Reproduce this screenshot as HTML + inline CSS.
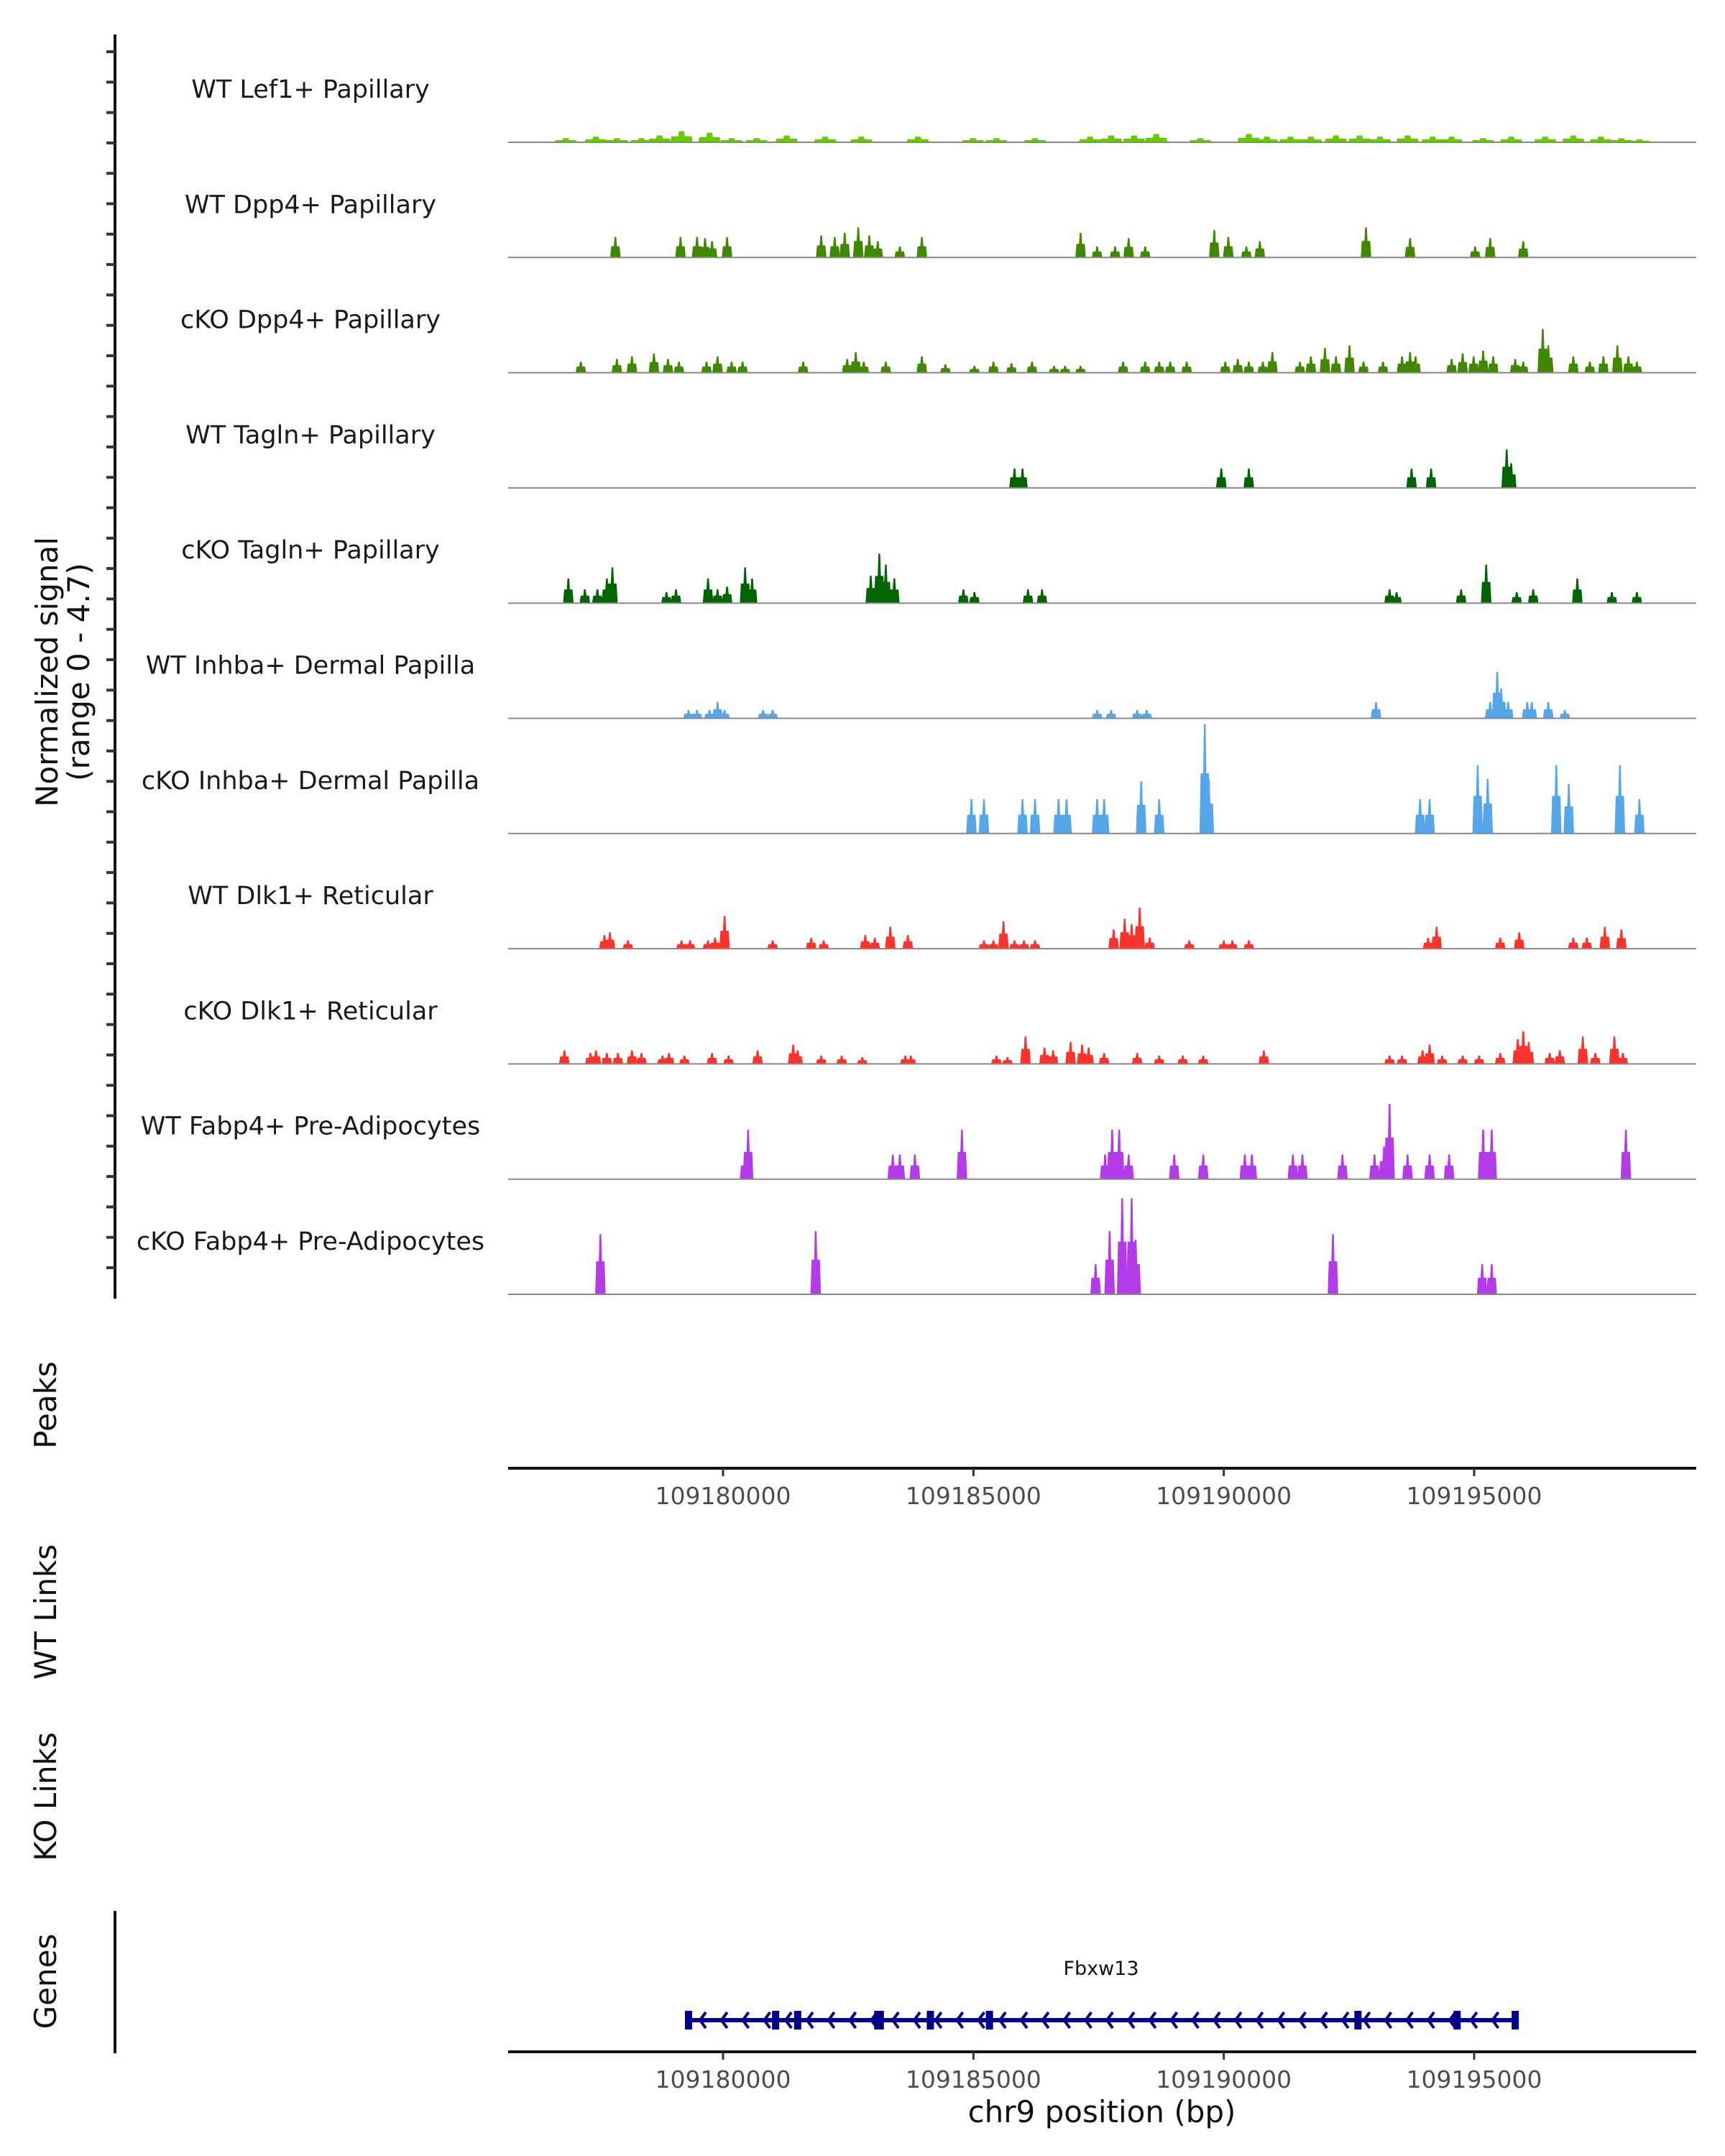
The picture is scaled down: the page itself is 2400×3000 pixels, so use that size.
<!DOCTYPE html>
<html><head><meta charset="utf-8"><style>
html,body{margin:0;padding:0;background:#fff}
svg{display:block;font-family:"DejaVu Sans","Liberation Sans",sans-serif}
</style></head><body>
<svg id="chart" width="2400" height="3000" viewBox="0 0 2400 3000" xmlns="http://www.w3.org/2000/svg">
<g id="left"></g>
<g id="tracks"></g>
<g id="axes"></g>
<g id="genes"></g>
</svg>
<script>
// ---- data (positions in kb offset from chr9:109,000,000; heights in normalized signal) ----
const trackNames = ["WT Lef1+ Papillary","WT Dpp4+ Papillary","cKO Dpp4+ Papillary","WT Tagln+ Papillary","cKO Tagln+ Papillary","WT Inhba+ Dermal Papilla","cKO Inhba+ Dermal Papilla","WT Dlk1+ Reticular","cKO Dlk1+ Reticular","WT Fabp4+ Pre-Adipocytes","cKO Fabp4+ Pre-Adipocytes"];
const trackColors = ["#66CC00","#408800","#408800","#006400","#006400","#56A6EA","#56A6EA","#F8342C","#F8342C","#B43CE8","#B43CE8"];
const pos0 = [176.86,177.46,177.88,178.37,178.73,179.17,179.73,180.17,180.67,181.27,182.04,182.76,183.89,184.99,185.46,186.23,187.33,187.75,188.21,188.65,189.53,190.50,190.86,191.33,191.74,192.24,192.71,193.12,193.67,194.17,194.55,195.18,195.74,196.42,196.98,197.53,197.94,198.30];
const val0 = [0.17,0.23,0.17,0.17,0.28,0.45,0.39,0.17,0.17,0.28,0.23,0.23,0.23,0.17,0.17,0.17,0.23,0.28,0.28,0.34,0.17,0.34,0.23,0.23,0.23,0.28,0.28,0.23,0.28,0.23,0.23,0.17,0.23,0.23,0.28,0.23,0.17,0.12];
const pos1 = [177.85,179.15,179.48,179.64,179.78,180.08,181.96,182.23,182.43,182.70,182.92,183.09,183.53,183.97,187.14,187.47,187.83,188.10,188.43,189.81,190.09,190.45,190.72,192.84,193.72,195.02,195.32,195.98];
const val1 = [0.84,0.84,0.84,0.79,0.67,0.84,0.90,0.84,1.01,1.23,0.90,0.67,0.45,0.84,1.01,0.45,0.45,0.79,0.45,1.12,0.84,0.45,0.67,1.23,0.79,0.45,0.79,0.67];
const pos2 = [177.16,177.88,178.18,178.62,178.90,179.12,179.67,179.89,180.17,180.39,181.60,182.48,182.65,182.81,183.25,183.97,184.44,185.02,185.40,185.76,186.17,186.61,186.83,187.14,187.99,188.43,188.71,188.93,189.26,190.03,190.28,190.50,190.78,190.97,191.52,191.74,192.02,192.24,192.51,192.79,193.18,193.56,193.72,193.83,194.55,194.77,194.99,195.18,195.38,195.82,195.98,196.37,196.48,196.98,197.31,197.58,197.86,198.08,198.25];
const val2 = [0.45,0.56,0.67,0.79,0.56,0.45,0.45,0.67,0.45,0.45,0.45,0.56,0.84,0.45,0.45,0.67,0.34,0.28,0.45,0.39,0.45,0.28,0.28,0.28,0.45,0.45,0.45,0.45,0.45,0.45,0.56,0.45,0.45,0.84,0.45,0.67,1.01,0.67,1.12,0.45,0.45,0.67,0.84,0.67,0.56,0.79,0.67,0.90,0.67,0.56,0.45,1.79,1.12,0.67,0.45,0.67,1.12,0.67,0.45];
const pos3 = [185.82,185.98,189.95,190.50,193.75,194.14,195.65,195.74];
const val3 = [0.79,0.79,0.79,0.79,0.79,0.79,1.57,1.01];
const pos4 = [176.91,177.24,177.49,177.68,177.79,178.87,179.06,179.70,179.89,180.08,180.44,180.58,182.95,183.12,183.25,183.42,184.80,185.02,186.09,186.37,193.31,193.45,194.74,195.24,195.85,196.18,197.06,197.75,198.25];
const val4 = [1.01,0.56,0.56,1.01,1.46,0.45,0.56,1.01,0.56,0.67,1.46,1.01,1.12,2.02,1.57,1.01,0.56,0.45,0.56,0.56,0.56,0.45,0.56,1.57,0.45,0.56,1.01,0.45,0.45];
const pos5 = [179.31,179.48,179.73,179.89,180.03,180.80,180.99,187.47,187.75,188.27,188.46,193.04,195.32,195.46,195.54,195.68,196.06,196.15,196.48,196.81];
const val5 = [0.34,0.34,0.34,0.67,0.34,0.34,0.34,0.34,0.34,0.34,0.34,0.67,0.67,1.90,1.23,0.67,0.67,0.67,0.67,0.34];
const pos6 = [184.96,185.21,185.98,186.23,186.70,186.86,187.47,187.61,188.35,188.71,189.62,189.70,193.92,194.11,195.07,195.27,196.64,196.89,197.91,198.30];
const val6 = [1.40,1.40,1.40,1.40,1.40,1.40,1.40,1.40,2.13,1.40,4.48,2.24,1.40,1.40,2.80,2.24,2.80,2.02,2.80,1.40];
const pos7 = [177.63,177.74,178.10,179.17,179.34,179.70,179.84,180.03,180.99,181.76,182.01,182.84,183.03,183.34,183.69,185.21,185.40,185.60,185.82,186.01,186.23,187.80,188.02,188.16,188.32,188.52,189.31,190.00,190.17,190.50,194.08,194.25,195.52,195.90,196.98,197.25,197.61,197.94];
const val7 = [0.56,0.67,0.34,0.34,0.34,0.34,0.45,1.34,0.34,0.45,0.34,0.56,0.45,0.90,0.56,0.34,0.34,1.12,0.34,0.34,0.34,0.79,1.23,1.01,1.68,0.45,0.34,0.34,0.34,0.34,0.45,0.90,0.45,0.67,0.45,0.45,0.90,0.79];
const pos8 = [176.83,177.35,177.46,177.68,177.90,178.18,178.37,178.79,178.92,179.23,179.78,180.11,180.69,181.40,181.49,181.96,182.37,182.78,183.64,183.75,185.46,185.68,186.04,186.42,186.59,186.94,187.17,187.30,187.61,188.27,188.71,189.18,189.59,190.80,193.31,193.56,193.97,194.11,194.36,194.77,195.10,195.52,195.87,195.98,196.09,196.51,196.71,197.17,197.42,197.80,197.97];
const val8 = [0.56,0.45,0.56,0.45,0.45,0.56,0.45,0.34,0.45,0.34,0.45,0.34,0.56,0.79,0.56,0.34,0.34,0.28,0.34,0.34,0.34,0.28,1.12,0.67,0.56,0.90,0.79,0.67,0.45,0.45,0.34,0.34,0.34,0.56,0.34,0.34,0.56,0.79,0.34,0.34,0.34,0.45,1.01,1.34,0.90,0.45,0.56,1.12,0.45,1.12,0.45];
const pos9 = [180.44,180.50,183.39,183.53,183.83,184.77,187.63,187.77,187.91,188.10,189.01,189.59,190.42,190.56,191.38,191.57,192.37,193.01,193.20,193.31,193.67,194.11,194.50,195.18,195.35,198.03];
const val9 = [1.01,2.02,1.01,1.01,1.01,2.02,1.01,2.02,2.02,1.01,1.01,1.01,1.01,1.01,1.01,1.01,1.01,1.01,1.34,3.08,1.01,1.01,1.01,2.02,2.02,2.02];
const pos10 = [177.55,181.85,187.44,187.72,187.97,188.16,188.24,192.18,195.16,195.35];
const val10 = [2.46,2.58,1.23,2.58,3.92,3.92,2.24,2.46,1.23,1.23];
const xTicks = [109180000,109185000,109190000,109195000];
const geneName = "Fbxw13";
const geneStart = 179.31, geneEnd = 195.82;
const exonPos = [179.31,181.05,181.49,183.09,183.14,184.14,185.32,192.68,194.66,195.82];
const yMax = 4.7;

const positions=[pos0,pos1,pos2,pos3,pos4,pos5,pos6,pos7,pos8,pos9,pos10];
const values=[val0,val1,val2,val3,val4,val5,val6,val7,val8,val9,val10];

// ---- scales ----
const X0=707, X1=2360;
function xScale(bp){return 1006+(bp-109180000)*(1045/15000);}
function xKb(kb){return xScale(109000000+kb*1000);}
const base0=198, trackStep=160.3, trackH=160;
function yScale(v,i){return base0+i*trackStep - v/yMax*trackH;}

const NS="http://www.w3.org/2000/svg";
function mk(tag,attrs,parent,text){const e=document.createElementNS(NS,tag);for(const k in attrs)e.setAttribute(k,attrs[k]);if(text!==undefined)e.textContent=text;parent.appendChild(e);return e;}

// ---- left axis ----
const L=document.getElementById('left');
let ax=mk('line',{x1:160,y1:48,x2:160,y2:1807,stroke:'#111','stroke-width':4},L);


for(let y=72;y<=1805;y+=42.3){
  const t=mk('line',{x1:148,y1:y,x2:160,y2:y,stroke:'#333','stroke-width':4},L);
  
  
}
function vlabel(txt,x,y,name){const t=mk('text',{x:x,y:y,transform:`rotate(-90 ${x} ${y})`,'text-anchor':'middle','font-size':42,fill:'#111'},L,txt);
  
  }
vlabel("Normalized signal",80,935,'y-axis-title');
vlabel("(range 0 - 4.7)",124,935,'y-axis-range');
vlabel("Peaks",78,1955,'peaks-title');
vlabel("WT Links",78,2243,'wt-links-title');
vlabel("KO Links",78,2500,'ko-links-title');
vlabel("Genes",78,2757,'genes-title');
let ga=mk('line',{x1:160,y1:2659,x2:160,y2:2857,stroke:'#111','stroke-width':4},L);



// ---- tracks ----
const T=document.getElementById('tracks');
trackNames.forEach((nm,i)=>{
  const g=mk('g',{},T);
  
  
  const by=base0+i*trackStep;
  const lab=mk('text',{x:432,y:by-62,'text-anchor':'middle','font-size':35,fill:'#1a1a1a'},g,nm);
  
  
  const w = i===0?0.45:0.21;
  positions[i].forEach((p,j)=>{
    const v=values[i][j];
    const xl=xKb(p-w/2), xr=xKb(p+w/2), xa=xKb(p-w*0.15), xb=xKb(p+w*0.15);
    const yt=yScale(v,i), ym=yScale(v*0.55,i);
    const pts=`${xl},${by} ${xl+1.5},${ym} ${xa},${ym} ${xa+1},${yt} ${xb-1},${yt} ${xb},${ym} ${xr-1.5},${ym} ${xr},${by}`;
    const pk=mk('polygon',{points:pts,fill:trackColors[i]},g);
    
    
  });
  const bl=mk('line',{x1:X0,y1:by,x2:X1,y2:by,stroke:'#888','stroke-width':2},g);
  
  
});

// ---- x axes ----
const A=document.getElementById('axes');
function xaxis(y,name){
  const l=mk('line',{x1:X0,y1:y,x2:X1,y2:y,stroke:'#111','stroke-width':4},A);
  
  
  xTicks.forEach(t=>{
    const x=xScale(t);
    const tk=mk('line',{x1:x,y1:y,x2:x,y2:y+11,stroke:'#333','stroke-width':3},A);
    
    
    const tl=mk('text',{x:x,y:y+50,'text-anchor':'middle','font-size':33,fill:'#4d4d4d'},A,String(t));
    
    
  });
}
xaxis(2043,'peaks-x-axis');
xaxis(2855,'genes-x-axis');
const xt=mk('text',{x:1533,y:2953,'text-anchor':'middle','font-size':42,fill:'#111'},A,"chr9 position (bp)");



// ---- gene ----
const G=document.getElementById('genes');
const gy=2811, col='#00008B';
const gl=mk('text',{x:1532,y:2748,'text-anchor':'middle','font-size':27,fill:'#111'},G,geneName);


const gline=mk('line',{x1:xKb(geneStart),y1:gy,x2:xKb(geneEnd),y2:gy,stroke:col,'stroke-width':6},G);


for(let x=xKb(geneStart)+18;x<xKb(geneEnd)-8;x+=29.8){
  const c=mk('polyline',{points:`${x+6},${gy-11} ${x-2},${gy} ${x+6},${gy+11}`,fill:'none',stroke:col,'stroke-width':4},G);
  
  
}
exonPos.forEach(p=>{
  const x=xKb(p);
  const r=mk('rect',{x:x-5,y:gy-13,width:10,height:26,fill:col},G);
  
  
});
</script>
</body></html>
